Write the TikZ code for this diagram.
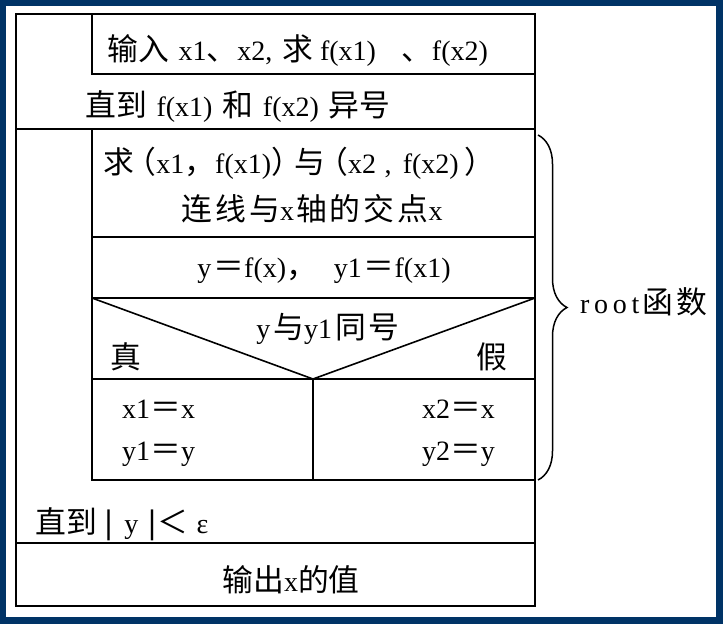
\documentclass[tikz,border=0pt]{standalone}
\usepackage{fontspec}
\setmainfont{Liberation Serif}
\newfontfamily\cjk[Scale=1.1]{Noto Sans CJK SC}
\newfontfamily\cjkwide[Scale=1.1, LetterSpace=10]{Noto Sans CJK SC}
\newcommand{\zh}[1]{{\cjk #1}}
\newcommand{\zhs}[1]{{\cjkwide #1}}
\newcommand{\absbar}{{\fontsize{34}{34}\selectfont\textbf{|}}}
\usepackage{tikz}
\usetikzlibrary{decorations.pathreplacing}
\definecolor{framebg}{RGB}{0,51,102}

\begin{document}
\begin{tikzpicture}[
  x=1pt, y=-1pt,
  every node/.style={inner sep=0pt, font=\fontsize{28}{32}\selectfont},
  cell/.style={draw=black, line width=1.6pt},
  brace/.style={decorate, decoration={brace, amplitude=29pt}, line width=1.5pt},
  ]
  \useasboundingbox (0,0) rectangle (723,624);

  % Frame
  \fill[framebg] (0,0) rectangle (723,624);
  \fill[white] (6,6) rectangle (716,617);

  % Outer loop and input
  \draw[cell] (16,14) rectangle (535,606);
  \draw[cell] (92,14) -- (92,74) -- (535,74);
  \draw[cell] (16,129) -- (535,129);
  \node[anchor=base west] (input) at (107,60) {\zh{输入}\hspace{0.35em}x1\zh{、}x2,\hspace{0.35em}\zh{求}\hspace{0.25em}f(x1)\hspace{0.9em}\zh{、}f(x2)};
  \node[anchor=base west] (until1) at (85,116) {\zh{直到}\hspace{0.35em}f(x1)\hspace{0.35em}\zh{和}\hspace{0.35em}f(x2)\hspace{0.35em}\zh{异号}};

  % Inner loop body
  \draw[cell] (92,129) -- (92,480) -- (535,480);
  \draw[cell] (92,237) -- (535,237);
  \draw[cell] (92,298) -- (535,298);
  \node[anchor=base west] (cross1) at (103,173) {\zh{求}\hspace{-0.3em}\zh{（}x1\zh{，}f(x1)\zh{）}\hspace{-0.25em}\zh{与}\hspace{-0.3em}\zh{（}x2\hspace{0.3em},\hspace{0.4em}f(x2)\hspace{0.2em}\zh{）}};
  \node[anchor=base] (cross2) at (312,220) {\zhs{连线与}x\hspace{2pt}\zhs{轴的交点}x};
  \node[anchor=base] (assign) at (324,277) {y\hspace{2pt}\zh{＝}f(x)\zh{，}\hspace{0.6em}y1\hspace{2pt}\zh{＝}f(x1)};

  % Condition
  \draw[cell] (92,379) -- (535,379);
  \draw[cell] (92,298) -- (313,379) -- (535,298);
  \draw[cell] (313,379) -- (313,480);
  \node[anchor=base] (cond) at (328,338) {y\hspace{3pt}\zhs{与}y1\hspace{3pt}\zhs{同号}};
  \node[anchor=base] (yes) at (126,368) {\zh{真}};
  \node[anchor=base] (no) at (492,368) {\zh{假}};
  \node[anchor=base west] (setx1) at (122,418) {x1\zh{＝}x};
  \node[anchor=base west] (sety1) at (122,460) {y1\zh{＝}y};
  \node[anchor=base east] (setx2) at (495,418) {x2\zh{＝}x};
  \node[anchor=base east] (sety2) at (495,460) {y2\zh{＝}y};

  % Outer loop end and output
  \draw[cell] (16,543) -- (535,543);
  \node[anchor=base west] (until2) at (35,533) {\zh{直到}\hspace{8pt}\absbar\hspace{12pt}y\hspace{10pt}\absbar\hspace{2pt}\zh{＜}\hspace{8pt}ε};
  \node[anchor=base] (output) at (291,591) {\zh{输出}x\zh{的值}};

  % Brace for the root function
  \coordinate (btop) at (538,135);
  \coordinate (bbot) at (538,480);
  \draw[brace] (btop) -- (bbot);
  \node[anchor=base west] (root) at (580,313) {r\,o\,o\,t\hspace{3pt}\zhs{函数}};
\end{tikzpicture}
\end{document}
